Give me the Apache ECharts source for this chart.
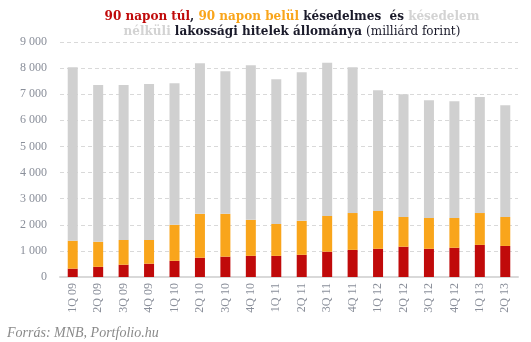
<!DOCTYPE html>
<html><head><meta charset="utf-8">
<script src="https://cdn.jsdelivr.net/npm/echarts@6/dist/echarts.min.js"></script>
<style>html,body{margin:0;padding:0;background:#fff}#c{width:531px;height:342px}</style>
</head><body><div id="c"></div>
<script>
const categories = ['1Q 09','2Q 09','3Q 09','4Q 09','1Q 10','2Q 10','3Q 10','4Q 10','1Q 11','2Q 11','3Q 11','4Q 11','1Q 12','2Q 12','3Q 12','4Q 12','1Q 13','2Q 13'];
const over90 = [320,390,470,510,620,740,780,810,810,850,970,1040,1080,1160,1080,1120,1230,1190];
const within90 = [1070,960,950,910,1380,1680,1640,1380,1220,1300,1370,1410,1450,1140,1180,1140,1220,1110];
const current = [6640,6000,5930,5970,5420,5770,5460,5920,5540,5690,5870,5580,4620,4700,4510,4470,4440,4280];
const yTicks = [0,1000,2000,3000,4000,5000,6000,7000,8000,9000];

const serif = '"Liberation Serif", "DejaVu Serif", serif';
const tserif = '"DejaVu Serif", serif';
const chart = echarts.init(document.getElementById('c'));
const ts = (color, w) => ({color, fontWeight: w || 'bold', fontSize: 12, fontFamily: tserif});
chart.setOption({
  animation: false,
  title: [{
    text: '{r|90 napon túl}{d|, }{o|90 napon belül}{d| késedelmes  és }{g|késedelem}',
    left: 287, top: 6, textAlign: 'center',
    textStyle: { rich: { r: ts('#c00a0a'), o: ts('#f9a51b'), d: ts('#1a1a2a'), g: ts('#d3d3d3') } }
  },{
    text: '{g|nélküli}{d| lakossági hitelek állománya }{n|(milliárd forint)}',
    left: 287, top: 21, textAlign: 'center',
    textStyle: { rich: { g: ts('#d3d3d3'), d: ts('#1a1a2a'), n: ts('#1a1a2a', 'normal') } }
  },{
    text: 'Forrás: MNB, Portfolio.hu',
    left: 2, top: 321,
    textStyle: {color:'#8a8a8a', fontStyle:'italic', fontWeight:'normal', fontSize:14, fontFamily:serif}
  }],
  grid: { left: 60, right: 13, top: 42, bottom: 65 },
  xAxis: {
    type: 'category', data: categories,
    axisLine: { lineStyle: { color: '#d9d9d9', width: 2 } },
    axisTick: { show: false },
    axisLabel: { rotate: 90, color: '#8a8f9a', fontFamily: serif, fontSize: 12, margin: 6, interval: 0 }
  },
  yAxis: {
    type: 'value', min: yTicks[0], max: yTicks[yTicks.length-1], interval: 1000,
    axisLine: { show: false }, axisTick: { show: false },
    splitLine: { lineStyle: { color: '#d9d9d9', type: [4,3], width: 1 } },
    axisLabel: { color: '#8a8f9a', fontFamily: serif, fontSize: 12, margin: 13,
      formatter: v => v >= 1000 ? Math.floor(v/1000) + ' ' + String(v%1000).padStart(3,'0') : String(v) }
  },
  series: [
    { name: '90 napon túl', type: 'bar', stack: 's', data: over90, barWidth: 10, itemStyle: { color: '#c00a0a' } },
    { name: '90 napon belül', type: 'bar', stack: 's', data: within90, barWidth: 10, itemStyle: { color: '#f9a51b' } },
    { name: 'késedelem nélküli', type: 'bar', stack: 's', data: current, barWidth: 10, itemStyle: { color: '#d0d0d0' } }
  ]
});
</script></body></html>
